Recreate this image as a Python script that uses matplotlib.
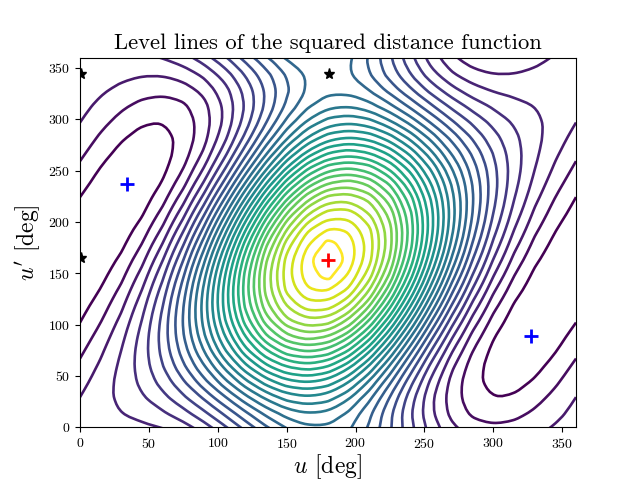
import numpy as np
import matplotlib
matplotlib.use("Agg")
import matplotlib.pyplot as plt
from matplotlib.patches import PathPatch
from matplotlib.path import Path

plt.rcParams["font.family"] = "cmr10"
plt.rcParams["mathtext.fontset"] = "cm"
plt.rcParams["axes.formatter.use_mathtext"] = True
plt.rcParams["axes.unicode_minus"] = False

# grid of the field, values estimated from the level lines of the picture
u = [0, 15, 30, 45, 60, 75, 90, 105, 120, 135, 150, 165, 180, 195, 210, 225, 240, 255, 270, 285, 300, 315, 330, 345, 360]
u_prime = [-2, 13, 28, 43, 58, 73, 88, 103, 118, 133, 148, 163, 178, 193, 208, 223, 238, 253, 268, 283, 298, 313, 328, 343, 358, 373]
field = [
    [2.47, 2.63, 2.67, 2.72, 2.92, 3.44, 4.36, 5.65, 7.16, 8.68, 9.94, 10.69, 10.76, 10.11, 8.82, 7.12, 5.28, 3.59, 2.28, 1.50, 1.22, 1.36, 1.73, 2.15, 2.47],
    [2.30, 2.70, 3.01, 3.33, 3.82, 4.58, 5.70, 7.13, 8.72, 10.22, 11.39, 11.94, 11.76, 10.80, 9.21, 7.20, 5.08, 3.17, 1.70, 0.82, 0.52, 0.71, 1.19, 1.76, 2.30],
    [2.03, 2.65, 3.23, 3.85, 4.65, 5.73, 7.13, 8.79, 10.55, 12.14, 13.29, 13.73, 13.35, 12.13, 10.21, 7.86, 5.41, 3.19, 1.47, 0.41, -0.01, 0.13, 0.65, 1.33, 2.03],
    [1.67, 2.49, 3.31, 4.24, 5.36, 6.80, 8.55, 10.53, 12.54, 14.30, 15.52, 15.93, 15.42, 13.97, 11.76, 9.06, 6.24, 3.67, 1.63, 0.28, -0.34, -0.32, 0.15, 0.87, 1.67],
    [1.26, 2.21, 3.24, 4.45, 5.92, 7.74, 9.86, 12.21, 14.54, 16.55, 17.94, 18.41, 17.83, 16.21, 13.74, 10.71, 7.52, 4.55, 2.14, 0.46, -0.44, -0.63, -0.28, 0.41, 1.26],
    [0.82, 1.85, 3.05, 4.50, 6.28, 8.45, 10.98, 13.72, 16.43, 18.76, 20.37, 20.98, 20.42, 18.71, 16.03, 12.70, 9.15, 5.80, 2.98, 0.93, -0.30, -0.76, -0.61, -0.03, 0.82],
    [0.38, 1.41, 2.72, 4.37, 6.42, 8.92, 11.82, 14.97, 18.06, 20.75, 22.66, 23.47, 23.01, 21.27, 18.46, 14.91, 11.04, 7.31, 4.10, 1.64, 0.06, -0.71, -0.80, -0.39, 0.38],
    [-0.03, 0.95, 2.29, 4.06, 6.32, 9.10, 12.33, 15.85, 19.34, 22.40, 24.64, 25.71, 25.42, 23.75, 20.88, 17.16, 13.04, 8.99, 5.41, 2.58, 0.62, -0.50, -0.87, -0.67, -0.03],
    [-0.39, 0.49, 1.79, 3.61, 5.99, 8.97, 12.49, 16.33, 20.17, 23.60, 26.19, 27.55, 27.49, 25.95, 23.11, 19.32, 15.03, 10.73, 6.83, 3.65, 1.33, -0.11, -0.79, -0.83, -0.39],
    [-0.66, 0.06, 1.25, 3.03, 5.46, 8.56, 12.26, 16.35, 20.50, 24.26, 27.19, 28.88, 29.08, 27.74, 25.01, 21.24, 16.86, 12.39, 8.26, 4.80, 2.16, 0.41, -0.57, -0.88, -0.66],
    [-0.83, -0.33, 0.71, 2.38, 4.76, 7.88, 11.68, 15.93, 20.30, 24.34, 27.58, 29.57, 30.30, 28.99, 26.46, 22.78, 18.42, 13.87, 9.60, 5.94, 3.06, 1.02, -0.23, -0.81, -0.83],
    [-0.89, -0.62, 0.21, 1.70, 3.94, 6.99, 10.77, 15.09, 19.59, 23.84, 27.33, 29.62, 30.90, 29.62, 27.33, 23.84, 19.59, 15.09, 10.77, 6.99, 3.94, 1.70, 0.21, -0.62, -0.89],
    [-0.83, -0.81, -0.23, 1.02, 3.06, 5.94, 9.60, 13.87, 18.42, 22.78, 26.46, 28.99, 30.30, 29.57, 27.58, 24.34, 20.30, 15.93, 11.68, 7.88, 4.76, 2.38, 0.71, -0.33, -0.83],
    [-0.66, -0.88, -0.57, 0.41, 2.16, 4.80, 8.26, 12.39, 16.86, 21.24, 25.01, 27.74, 29.08, 28.88, 27.19, 24.26, 20.50, 16.35, 12.26, 8.56, 5.46, 3.03, 1.25, 0.06, -0.66],
    [-0.39, -0.83, -0.79, -0.11, 1.33, 3.65, 6.83, 10.73, 15.03, 19.32, 23.11, 25.95, 27.49, 27.55, 26.19, 23.60, 20.17, 16.33, 12.49, 8.97, 5.99, 3.61, 1.79, 0.49, -0.39],
    [-0.03, -0.67, -0.87, -0.50, 0.62, 2.58, 5.41, 8.99, 13.04, 17.16, 20.88, 23.75, 25.42, 25.71, 24.64, 22.40, 19.34, 15.85, 12.33, 9.10, 6.32, 4.06, 2.29, 0.95, -0.03],
    [0.38, -0.39, -0.80, -0.71, 0.06, 1.64, 4.10, 7.31, 11.04, 14.91, 18.46, 21.27, 23.01, 23.47, 22.66, 20.75, 18.06, 14.97, 11.82, 8.92, 6.42, 4.37, 2.72, 1.41, 0.38],
    [0.82, -0.03, -0.61, -0.76, -0.30, 0.93, 2.98, 5.80, 9.15, 12.70, 16.03, 18.71, 20.42, 20.98, 20.37, 18.76, 16.43, 13.72, 10.98, 8.45, 6.28, 4.50, 3.05, 1.85, 0.82],
    [1.26, 0.41, -0.28, -0.63, -0.44, 0.46, 2.14, 4.55, 7.52, 10.71, 13.74, 16.21, 17.83, 18.41, 17.94, 16.55, 14.54, 12.21, 9.86, 7.74, 5.92, 4.45, 3.24, 2.21, 1.26],
    [1.67, 0.87, 0.15, -0.32, -0.34, 0.28, 1.63, 3.67, 6.24, 9.06, 11.76, 13.97, 15.42, 15.93, 15.52, 14.30, 12.54, 10.53, 8.55, 6.80, 5.36, 4.24, 3.31, 2.49, 1.67],
    [2.03, 1.33, 0.65, 0.13, -0.01, 0.41, 1.47, 3.19, 5.41, 7.86, 10.21, 12.13, 13.35, 13.73, 13.29, 12.14, 10.55, 8.79, 7.13, 5.73, 4.65, 3.85, 3.23, 2.65, 2.03],
    [2.30, 1.76, 1.19, 0.71, 0.52, 0.82, 1.70, 3.17, 5.08, 7.20, 9.21, 10.80, 11.76, 11.94, 11.39, 10.22, 8.72, 7.13, 5.70, 4.58, 3.82, 3.33, 3.01, 2.70, 2.30],
    [2.47, 2.15, 1.73, 1.36, 1.22, 1.50, 2.28, 3.59, 5.28, 7.12, 8.82, 10.11, 10.76, 10.69, 9.94, 8.68, 7.16, 5.65, 4.36, 3.44, 2.92, 2.72, 2.67, 2.63, 2.47],
    [2.53, 2.44, 2.23, 2.04, 2.04, 2.39, 3.19, 4.43, 5.99, 7.62, 9.07, 10.06, 10.42, 10.06, 9.07, 7.62, 5.99, 4.43, 3.19, 2.39, 2.04, 2.04, 2.23, 2.44, 2.53],
    [2.47, 2.63, 2.67, 2.72, 2.92, 3.44, 4.36, 5.65, 7.16, 8.68, 9.94, 10.69, 10.76, 10.11, 8.82, 7.12, 5.28, 3.59, 2.28, 1.50, 1.22, 1.36, 1.73, 2.15, 2.47],
    [2.30, 2.70, 3.01, 3.33, 3.82, 4.58, 5.70, 7.13, 8.72, 10.22, 11.39, 11.94, 11.76, 10.80, 9.21, 7.20, 5.08, 3.17, 1.70, 0.82, 0.52, 0.71, 1.19, 1.76, 2.30],
]
levels = [0, 1, 2, 3, 4, 5, 6, 7, 8, 9, 10, 11, 12, 13, 14, 15, 16, 17, 18, 19, 20, 21, 22, 23, 24, 25, 26, 27, 28, 29, 30]

max_u, max_up = [180], [163]
min_u, min_up = [34, 327], [237, 89]
saddle_u, saddle_up = [1, 181, 1], [344, 344, 165]
ticks = [0, 50, 100, 150, 200, 250, 300, 350]


def curved_path(seg):
    # bezier through the contour vertices, so the coarse grid does not show as corners
    closed = len(seg) > 3 and np.allclose(seg[0], seg[-1])

    # vertices that sit very close together only make kinks
    keep = [seg[0]]
    for p in seg[1:-1]:
        if np.hypot(*(p - keep[-1])) > 3:
            keep.append(p)
    if len(keep) > 1 and np.hypot(*(seg[-1] - keep[-1])) < 3:
        keep.pop()
    keep.append(seg[-1])
    seg = np.array(keep)
    n = len(seg)

    if n >= 10:
        smooth = seg.copy()
        smooth[1:-1] = 0.15 * seg[:-2] + 0.7 * seg[1:-1] + 0.15 * seg[2:]
        if closed:
            smooth[0] = smooth[-1] = 0.15 * seg[-2] + 0.7 * seg[0] + 0.15 * seg[1]
        seg = smooth

    tangents = np.zeros_like(seg)
    tangents[1:-1] = seg[2:] - seg[:-2]
    if closed:
        tangents[0] = tangents[-1] = seg[1] - seg[-2]
    else:
        tangents[0] = seg[1] - seg[0]
        tangents[-1] = seg[-1] - seg[-2]
    tangents /= np.maximum(np.hypot(tangents[:, 0], tangents[:, 1]), 1e-9)[:, None]

    verts = [seg[0]]
    codes = [Path.MOVETO]
    for i in range(n - 1):
        d = np.hypot(*(seg[i + 1] - seg[i])) / 3
        verts += [seg[i] + tangents[i] * d, seg[i + 1] - tangents[i + 1] * d, seg[i + 1]]
        codes += [Path.CURVE4, Path.CURVE4, Path.CURVE4]
    return Path(verts, codes)


fig, ax = plt.subplots(1, 1)

cs = ax.contour(u, u_prime, field, levels=levels, cmap="viridis", linewidths=2)
for level, segs in zip(cs.levels, cs.allsegs):
    for seg in segs:
        if len(seg) > 1:
            ax.add_patch(PathPatch(curved_path(seg), facecolor="none", edgecolor=cs.cmap(cs.norm(level)), linewidth=1.9))
cs.remove()

ax.plot(max_u, max_up, "+", color="red", markersize=10, markeredgewidth=2)
ax.plot(min_u, min_up, "+", color="blue", markersize=10, markeredgewidth=2)
ax.plot(saddle_u, saddle_up, "*", color="black", markersize=8)

ax.set_xlim(0, 360)
ax.set_ylim(0, 360)
ax.set_xticks(ticks)
ax.set_yticks(ticks)
ax.set_xlabel(r"$u$ [deg]", fontsize=17, labelpad=1)
ax.set_ylabel(r"$u'$ [deg]", fontsize=17)
ax.set_title("Level lines of the squared distance function", fontsize=16.3)

fig.savefig("out.png", dpi=100)
plt.close(fig)
